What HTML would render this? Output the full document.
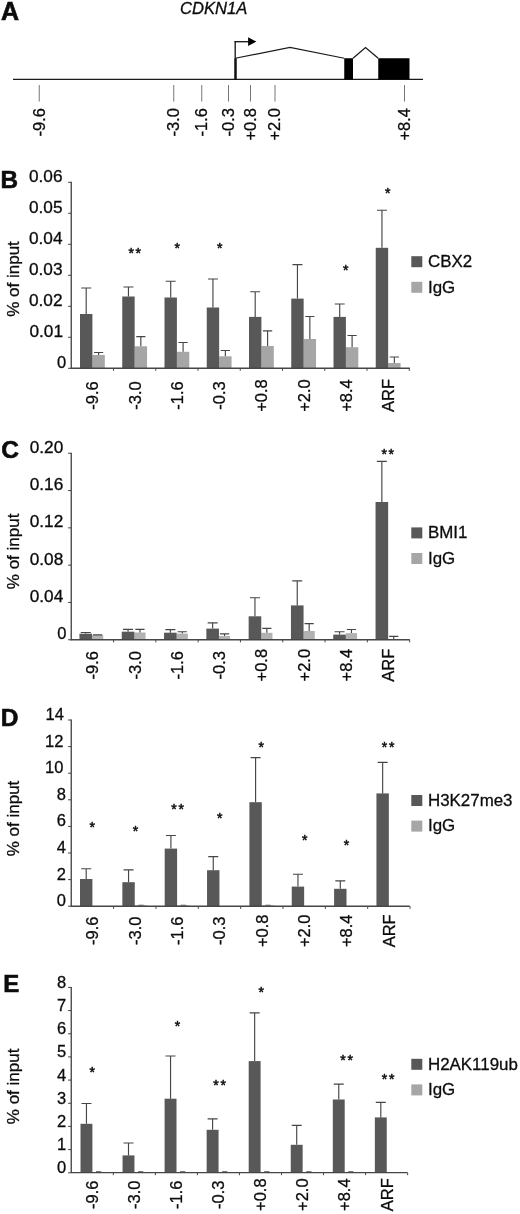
<!DOCTYPE html>
<html lang="en">
<head>
<meta charset="utf-8">
<title>CDKN1A ChIP figure</title>
<style>
html,body{margin:0;padding:0;background:#fff;}
body{width:520px;height:1214px;overflow:hidden;}
svg{display:block;font-family:'Liberation Sans', Arial, Helvetica, sans-serif;}
text{fill:#0c0c0c;stroke:#0c0c0c;stroke-width:0.3px;}
</style>
</head>
<body>
<svg width="520" height="1214" viewBox="0 0 520 1214" font-family="'Liberation Sans', Arial, Helvetica, sans-serif">
<rect x="0" y="0" width="520" height="1214" fill="#ffffff"/>
<g id="panelA">
<text x="0.9" y="19.7" font-size="25" font-weight="bold" style="stroke-width:0.6px">A</text>
<text x="180" y="14.3" font-size="16.6" font-style="italic">CDKN1A</text>
<line x1="13" y1="79.4" x2="423" y2="79.4" stroke="#1a1a1a" stroke-width="1.3"/>
<line x1="235.2" y1="41.1" x2="235.2" y2="79.5" stroke="#111" stroke-width="1.3"/>
<line x1="235.6" y1="58.4" x2="235.6" y2="79.5" stroke="#111" stroke-width="2.3"/>
<line x1="234.55" y1="41.7" x2="249.5" y2="41.7" stroke="#111" stroke-width="1.3"/>
<polygon points="248.1,37.2 256.4,41.6 248.1,46" fill="#000"/>
<polyline points="235.25,58.25 290,47.5 344.25,58.25" fill="none" stroke="#1a1a1a" stroke-width="1.25"/>
<rect x="344.25" y="58.25" width="8.75" height="21.25" fill="#000"/>
<polyline points="353,58.25 365.5,47.5 378.25,58.25" fill="none" stroke="#1a1a1a" stroke-width="1.25"/>
<rect x="378.25" y="58.25" width="31.25" height="21.25" fill="#000"/>
<line x1="39.25" y1="85" x2="39.25" y2="101.5" stroke="#666" stroke-width="0.9"/>
<text x="45.35" y="108.00" transform="rotate(-90 45.35 108.00)" text-anchor="end" font-size="16.5" >-9.6</text>
<line x1="173.75" y1="85" x2="173.75" y2="101.5" stroke="#666" stroke-width="0.9"/>
<text x="178.95" y="108.00" transform="rotate(-90 178.95 108.00)" text-anchor="end" font-size="16.5" >-3.0</text>
<line x1="201.75" y1="85" x2="201.75" y2="101.5" stroke="#666" stroke-width="0.9"/>
<text x="206.95" y="108.00" transform="rotate(-90 206.95 108.00)" text-anchor="end" font-size="16.5" >-1.6</text>
<line x1="228.5" y1="85" x2="228.5" y2="101.5" stroke="#666" stroke-width="0.9"/>
<text x="233.70" y="108.00" transform="rotate(-90 233.70 108.00)" text-anchor="end" font-size="16.5" >-0.3</text>
<line x1="250.5" y1="85" x2="250.5" y2="101.5" stroke="#666" stroke-width="0.9"/>
<text x="255.70" y="108.00" transform="rotate(-90 255.70 108.00)" text-anchor="end" font-size="16.5" >+0.8</text>
<line x1="275" y1="85" x2="275" y2="101.5" stroke="#666" stroke-width="0.9"/>
<text x="280.20" y="108.00" transform="rotate(-90 280.20 108.00)" text-anchor="end" font-size="16.5" >+2.0</text>
<line x1="404.5" y1="85" x2="404.5" y2="101.5" stroke="#666" stroke-width="0.9"/>
<text x="409.70" y="108.00" transform="rotate(-90 409.70 108.00)" text-anchor="end" font-size="16.5" >+8.4</text>
</g>
<g id="panelB">
<text x="0.5" y="187.8" font-size="24.3" font-weight="bold" style="stroke-width:0.6px">B</text>
<text x="18.70" y="279.00" transform="rotate(-90 18.70 279.00)" text-anchor="middle" font-size="17" >% of input</text>
<rect x="92.40" y="355.00" width="12.40" height="13.25" fill="#a6a6a6"/>
<path d="M98.60 355.00V352.50M94.00 352.50H103.20" stroke="#464646" stroke-width="1.15" fill="none"/>
<rect x="80.00" y="314.00" width="12.40" height="54.25" fill="#585858"/>
<path d="M86.20 314.00V288.00M81.20 288.00H91.20" stroke="#464646" stroke-width="1.15" fill="none"/>
<rect x="134.65" y="346.30" width="12.40" height="21.95" fill="#a6a6a6"/>
<path d="M140.85 346.30V336.60M136.25 336.60H145.45" stroke="#464646" stroke-width="1.15" fill="none"/>
<rect x="122.25" y="296.50" width="12.40" height="71.75" fill="#585858"/>
<path d="M128.45 296.50V287.00M123.45 287.00H133.45" stroke="#464646" stroke-width="1.15" fill="none"/>
<rect x="176.90" y="351.80" width="12.40" height="16.45" fill="#a6a6a6"/>
<path d="M183.10 351.80V342.50M178.50 342.50H187.70" stroke="#464646" stroke-width="1.15" fill="none"/>
<rect x="164.50" y="297.50" width="12.40" height="70.75" fill="#585858"/>
<path d="M170.70 297.50V281.20M165.70 281.20H175.70" stroke="#464646" stroke-width="1.15" fill="none"/>
<rect x="219.15" y="356.30" width="12.40" height="11.95" fill="#a6a6a6"/>
<path d="M225.35 356.30V350.50M220.75 350.50H229.95" stroke="#464646" stroke-width="1.15" fill="none"/>
<rect x="206.75" y="307.50" width="12.40" height="60.75" fill="#585858"/>
<path d="M212.95 307.50V279.00M207.95 279.00H217.95" stroke="#464646" stroke-width="1.15" fill="none"/>
<rect x="261.40" y="346.00" width="12.40" height="22.25" fill="#a6a6a6"/>
<path d="M267.60 346.00V330.80M263.00 330.80H272.20" stroke="#464646" stroke-width="1.15" fill="none"/>
<rect x="249.00" y="316.90" width="12.40" height="51.35" fill="#585858"/>
<path d="M255.20 316.90V291.70M250.20 291.70H260.20" stroke="#464646" stroke-width="1.15" fill="none"/>
<rect x="303.65" y="339.00" width="12.40" height="29.25" fill="#a6a6a6"/>
<path d="M309.85 339.00V316.50M305.25 316.50H314.45" stroke="#464646" stroke-width="1.15" fill="none"/>
<rect x="291.25" y="298.60" width="12.40" height="69.65" fill="#585858"/>
<path d="M297.45 298.60V264.60M292.45 264.60H302.45" stroke="#464646" stroke-width="1.15" fill="none"/>
<rect x="345.90" y="347.20" width="12.40" height="21.05" fill="#a6a6a6"/>
<path d="M352.10 347.20V335.50M347.50 335.50H356.70" stroke="#464646" stroke-width="1.15" fill="none"/>
<rect x="333.50" y="316.90" width="12.40" height="51.35" fill="#585858"/>
<path d="M339.70 316.90V304.00M334.70 304.00H344.70" stroke="#464646" stroke-width="1.15" fill="none"/>
<rect x="388.15" y="363.00" width="12.40" height="5.25" fill="#a6a6a6"/>
<path d="M394.35 363.00V357.00M389.75 357.00H398.95" stroke="#464646" stroke-width="1.15" fill="none"/>
<rect x="375.75" y="247.80" width="12.40" height="120.45" fill="#585858"/>
<path d="M381.95 247.80V210.20M376.95 210.20H386.95" stroke="#464646" stroke-width="1.15" fill="none"/>
<path d="M71.25 181.8V368.75" stroke="#464646" stroke-width="1.35" fill="none"/>
<path d="M70.75 368.25H409.8" stroke="#464646" stroke-width="1.35" fill="none"/>
<path d="M68.05 182.3H71.25" stroke="#464646" stroke-width="1" fill="none"/>
<text transform="translate(62.50 181.80) scale(1.045 1)" text-anchor="end" font-size="16.5">0.06</text>
<path d="M68.05 213.3H71.25" stroke="#464646" stroke-width="1" fill="none"/>
<text transform="translate(62.50 212.80) scale(1.045 1)" text-anchor="end" font-size="16.5">0.05</text>
<path d="M68.05 244.3H71.25" stroke="#464646" stroke-width="1" fill="none"/>
<text transform="translate(62.50 243.80) scale(1.045 1)" text-anchor="end" font-size="16.5">0.04</text>
<path d="M68.05 275.3H71.25" stroke="#464646" stroke-width="1" fill="none"/>
<text transform="translate(62.50 274.80) scale(1.045 1)" text-anchor="end" font-size="16.5">0.03</text>
<path d="M68.05 306.3H71.25" stroke="#464646" stroke-width="1" fill="none"/>
<text transform="translate(62.50 305.80) scale(1.045 1)" text-anchor="end" font-size="16.5">0.02</text>
<path d="M68.05 337.3H71.25" stroke="#464646" stroke-width="1" fill="none"/>
<text transform="translate(63.00 336.80) scale(1.045 1)" text-anchor="end" font-size="16.5">0.01</text>
<path d="M68.05 368.3H71.25" stroke="#464646" stroke-width="1" fill="none"/>
<text transform="translate(66.10 367.80) scale(1 1)" text-anchor="end" font-size="16.5">0</text>
<path d="M113.50 368.25V370.85" stroke="#464646" stroke-width="1" fill="none"/>
<path d="M155.75 368.25V370.85" stroke="#464646" stroke-width="1" fill="none"/>
<path d="M198.00 368.25V370.85" stroke="#464646" stroke-width="1" fill="none"/>
<path d="M240.25 368.25V370.85" stroke="#464646" stroke-width="1" fill="none"/>
<path d="M282.50 368.25V370.85" stroke="#464646" stroke-width="1" fill="none"/>
<path d="M324.75 368.25V370.85" stroke="#464646" stroke-width="1" fill="none"/>
<path d="M367.00 368.25V370.85" stroke="#464646" stroke-width="1" fill="none"/>
<path d="M409.25 368.25V370.85" stroke="#464646" stroke-width="1" fill="none"/>
<text x="98.28" y="395.50" transform="rotate(-90 98.28 395.50)" text-anchor="middle" font-size="16.5" >-9.6</text>
<text x="140.53" y="395.50" transform="rotate(-90 140.53 395.50)" text-anchor="middle" font-size="16.5" >-3.0</text>
<text x="182.78" y="395.50" transform="rotate(-90 182.78 395.50)" text-anchor="middle" font-size="16.5" >-1.6</text>
<text x="225.03" y="395.50" transform="rotate(-90 225.03 395.50)" text-anchor="middle" font-size="16.5" >-0.3</text>
<text x="267.27" y="395.50" transform="rotate(-90 267.27 395.50)" text-anchor="middle" font-size="16.5" >+0.8</text>
<text x="309.52" y="395.50" transform="rotate(-90 309.52 395.50)" text-anchor="middle" font-size="16.5" >+2.0</text>
<text x="351.77" y="395.50" transform="rotate(-90 351.77 395.50)" text-anchor="middle" font-size="16.5" >+8.4</text>
<text x="394.02" y="395.50" transform="rotate(-90 394.02 395.50)" text-anchor="middle" font-size="16.5" >ARF</text>
<text x="135.60" y="257.70" text-anchor="middle" font-size="14" letter-spacing="1.7" style="stroke-width:0.5px">**</text>
<text x="178.00" y="253.20" text-anchor="middle" font-size="14" letter-spacing="1.7" style="stroke-width:0.5px">*</text>
<text x="220.50" y="253.20" text-anchor="middle" font-size="14" letter-spacing="1.7" style="stroke-width:0.5px">*</text>
<text x="346.60" y="274.70" text-anchor="middle" font-size="14" letter-spacing="1.7" style="stroke-width:0.5px">*</text>
<text x="388.60" y="197.90" text-anchor="middle" font-size="14" letter-spacing="1.7" style="stroke-width:0.5px">*</text>
<rect x="411.3" y="256.20" width="11" height="11" fill="#585858"/>
<rect x="411.3" y="281.80" width="11" height="11" fill="#a6a6a6"/>
<text x="428" y="267.20" font-size="16.9">CBX2</text>
<text x="428" y="292.50" font-size="16.9">IgG</text>
</g>
<g id="panelC">
<text x="1.2" y="458.4" font-size="24.5" font-weight="bold" style="stroke-width:0.6px">C</text>
<text x="18.70" y="551.40" transform="rotate(-90 18.70 551.40)" text-anchor="middle" font-size="17" >% of input</text>
<rect x="92.05" y="635.20" width="11.20" height="4.55" fill="#b2b2b2"/>
<path d="M97.65 635.20V634.80M93.05 634.80H102.25" stroke="#464646" stroke-width="1.15" fill="none"/>
<rect x="79.45" y="633.70" width="12.60" height="6.05" fill="#585858"/>
<path d="M85.75 633.70V632.50M80.75 632.50H90.75" stroke="#464646" stroke-width="1.15" fill="none"/>
<rect x="134.35" y="632.50" width="11.20" height="7.25" fill="#b2b2b2"/>
<path d="M139.95 632.50V629.40M135.35 629.40H144.55" stroke="#464646" stroke-width="1.15" fill="none"/>
<rect x="121.75" y="631.70" width="12.60" height="8.05" fill="#585858"/>
<path d="M128.05 631.70V629.40M123.05 629.40H133.05" stroke="#464646" stroke-width="1.15" fill="none"/>
<rect x="176.65" y="633.60" width="11.20" height="6.15" fill="#b2b2b2"/>
<path d="M182.25 633.60V631.70M177.65 631.70H186.85" stroke="#464646" stroke-width="1.15" fill="none"/>
<rect x="164.05" y="632.70" width="12.60" height="7.05" fill="#585858"/>
<path d="M170.35 632.70V629.60M165.35 629.60H175.35" stroke="#464646" stroke-width="1.15" fill="none"/>
<rect x="218.95" y="636.00" width="11.20" height="3.75" fill="#b2b2b2"/>
<path d="M224.55 636.00V633.80M219.95 633.80H229.15" stroke="#464646" stroke-width="1.15" fill="none"/>
<rect x="206.35" y="628.60" width="12.60" height="11.15" fill="#585858"/>
<path d="M212.65 628.60V622.90M207.65 622.90H217.65" stroke="#464646" stroke-width="1.15" fill="none"/>
<rect x="261.25" y="632.80" width="11.20" height="6.95" fill="#b2b2b2"/>
<path d="M266.85 632.80V628.40M262.25 628.40H271.45" stroke="#464646" stroke-width="1.15" fill="none"/>
<rect x="248.65" y="616.30" width="12.60" height="23.45" fill="#585858"/>
<path d="M254.95 616.30V597.70M249.95 597.70H259.95" stroke="#464646" stroke-width="1.15" fill="none"/>
<rect x="303.55" y="631.00" width="11.20" height="8.75" fill="#b2b2b2"/>
<path d="M309.15 631.00V623.60M304.55 623.60H313.75" stroke="#464646" stroke-width="1.15" fill="none"/>
<rect x="290.95" y="605.40" width="12.60" height="34.35" fill="#585858"/>
<path d="M297.25 605.40V580.90M292.25 580.90H302.25" stroke="#464646" stroke-width="1.15" fill="none"/>
<rect x="345.85" y="633.10" width="11.20" height="6.65" fill="#b2b2b2"/>
<path d="M351.45 633.10V629.50M346.85 629.50H356.05" stroke="#464646" stroke-width="1.15" fill="none"/>
<rect x="333.25" y="634.60" width="12.60" height="5.15" fill="#585858"/>
<path d="M339.55 634.60V631.70M334.55 631.70H344.55" stroke="#464646" stroke-width="1.15" fill="none"/>
<rect x="388.15" y="639.00" width="11.20" height="0.75" fill="#b2b2b2"/>
<path d="M393.75 639.00V636.40M389.15 636.40H398.35" stroke="#464646" stroke-width="1.15" fill="none"/>
<rect x="375.55" y="502.00" width="12.60" height="137.75" fill="#585858"/>
<path d="M381.85 502.00V461.40M376.85 461.40H386.85" stroke="#464646" stroke-width="1.15" fill="none"/>
<path d="M71.25 452.75V640.25" stroke="#464646" stroke-width="1.35" fill="none"/>
<path d="M70.75 639.75H409.8" stroke="#464646" stroke-width="1.35" fill="none"/>
<path d="M68.05 453.25H71.25" stroke="#464646" stroke-width="1" fill="none"/>
<text transform="translate(63.30 452.75) scale(1.045 1)" text-anchor="end" font-size="16.5">0.20</text>
<path d="M68.05 490.55H71.25" stroke="#464646" stroke-width="1" fill="none"/>
<text transform="translate(63.30 490.05) scale(1.045 1)" text-anchor="end" font-size="16.5">0.16</text>
<path d="M68.05 527.85H71.25" stroke="#464646" stroke-width="1" fill="none"/>
<text transform="translate(63.30 527.35) scale(1.045 1)" text-anchor="end" font-size="16.5">0.12</text>
<path d="M68.05 565.15H71.25" stroke="#464646" stroke-width="1" fill="none"/>
<text transform="translate(63.30 564.65) scale(1.045 1)" text-anchor="end" font-size="16.5">0.08</text>
<path d="M68.05 602.45H71.25" stroke="#464646" stroke-width="1" fill="none"/>
<text transform="translate(63.30 601.95) scale(1.045 1)" text-anchor="end" font-size="16.5">0.04</text>
<path d="M68.05 639.75H71.25" stroke="#464646" stroke-width="1" fill="none"/>
<text transform="translate(66.40 639.25) scale(1 1)" text-anchor="end" font-size="16.5">0</text>
<path d="M113.55 639.75V642.35" stroke="#464646" stroke-width="1" fill="none"/>
<path d="M155.85 639.75V642.35" stroke="#464646" stroke-width="1" fill="none"/>
<path d="M198.15 639.75V642.35" stroke="#464646" stroke-width="1" fill="none"/>
<path d="M240.45 639.75V642.35" stroke="#464646" stroke-width="1" fill="none"/>
<path d="M282.75 639.75V642.35" stroke="#464646" stroke-width="1" fill="none"/>
<path d="M325.05 639.75V642.35" stroke="#464646" stroke-width="1" fill="none"/>
<path d="M367.35 639.75V642.35" stroke="#464646" stroke-width="1" fill="none"/>
<path d="M409.65 639.75V642.35" stroke="#464646" stroke-width="1" fill="none"/>
<text x="98.30" y="665.20" transform="rotate(-90 98.30 665.20)" text-anchor="middle" font-size="16.5" >-9.6</text>
<text x="140.60" y="665.20" transform="rotate(-90 140.60 665.20)" text-anchor="middle" font-size="16.5" >-3.0</text>
<text x="182.90" y="665.20" transform="rotate(-90 182.90 665.20)" text-anchor="middle" font-size="16.5" >-1.6</text>
<text x="225.20" y="665.20" transform="rotate(-90 225.20 665.20)" text-anchor="middle" font-size="16.5" >-0.3</text>
<text x="267.50" y="665.20" transform="rotate(-90 267.50 665.20)" text-anchor="middle" font-size="16.5" >+0.8</text>
<text x="309.80" y="665.20" transform="rotate(-90 309.80 665.20)" text-anchor="middle" font-size="16.5" >+2.0</text>
<text x="352.10" y="665.20" transform="rotate(-90 352.10 665.20)" text-anchor="middle" font-size="16.5" >+8.4</text>
<text x="394.40" y="665.20" transform="rotate(-90 394.40 665.20)" text-anchor="middle" font-size="16.5" >ARF</text>
<text x="388.60" y="458.70" text-anchor="middle" font-size="14" letter-spacing="1.7" style="stroke-width:0.5px">**</text>
<rect x="411.3" y="527.40" width="11" height="11" fill="#585858"/>
<rect x="411.3" y="553.00" width="11" height="11" fill="#a6a6a6"/>
<text x="428" y="538.40" font-size="16.9">BMI1</text>
<text x="428" y="563.70" font-size="16.9">IgG</text>
</g>
<g id="panelD">
<text x="0.7" y="725.7" font-size="24.5" font-weight="bold" style="stroke-width:0.6px">D</text>
<text x="18.70" y="818.50" transform="rotate(-90 18.70 818.50)" text-anchor="middle" font-size="17" >% of input</text>
<rect x="80.00" y="879.00" width="12.40" height="27.25" fill="#585858"/>
<path d="M86.20 879.00V868.70M81.20 868.70H91.20" stroke="#464646" stroke-width="1.15" fill="none"/>
<rect x="134.75" y="905.30" width="12.40" height="0.95" fill="#a6a6a6"/>
<rect x="122.35" y="882.20" width="12.40" height="24.05" fill="#585858"/>
<path d="M128.55 882.20V869.80M123.55 869.80H133.55" stroke="#464646" stroke-width="1.15" fill="none"/>
<path d="M138.35 905.15H143.55" stroke="#555" stroke-width="0.8" fill="none"/>
<rect x="177.10" y="905.30" width="12.40" height="0.95" fill="#a6a6a6"/>
<rect x="164.70" y="848.60" width="12.40" height="57.65" fill="#585858"/>
<path d="M170.90 848.60V835.50M165.90 835.50H175.90" stroke="#464646" stroke-width="1.15" fill="none"/>
<path d="M180.70 905.15H185.90" stroke="#555" stroke-width="0.8" fill="none"/>
<rect x="207.05" y="870.20" width="12.40" height="36.05" fill="#585858"/>
<path d="M213.25 870.20V856.60M208.25 856.60H218.25" stroke="#464646" stroke-width="1.15" fill="none"/>
<rect x="261.80" y="905.30" width="12.40" height="0.95" fill="#a6a6a6"/>
<rect x="249.40" y="802.20" width="12.40" height="104.05" fill="#585858"/>
<path d="M255.60 802.20V757.60M250.60 757.60H260.60" stroke="#464646" stroke-width="1.15" fill="none"/>
<path d="M265.40 905.15H270.60" stroke="#555" stroke-width="0.8" fill="none"/>
<rect x="291.75" y="886.60" width="12.40" height="19.65" fill="#585858"/>
<path d="M297.95 886.60V874.20M292.95 874.20H302.95" stroke="#464646" stroke-width="1.15" fill="none"/>
<rect x="334.10" y="888.80" width="12.40" height="17.45" fill="#585858"/>
<path d="M340.30 888.80V880.80M335.30 880.80H345.30" stroke="#464646" stroke-width="1.15" fill="none"/>
<rect x="376.45" y="793.40" width="12.40" height="112.85" fill="#585858"/>
<path d="M382.65 793.40V762.40M377.65 762.40H387.65" stroke="#464646" stroke-width="1.15" fill="none"/>
<path d="M71.25 719.5V906.75" stroke="#464646" stroke-width="1.35" fill="none"/>
<path d="M70.75 906.25H409.8" stroke="#464646" stroke-width="1.35" fill="none"/>
<path d="M68.05 720.0H71.25" stroke="#464646" stroke-width="1" fill="none"/>
<text transform="translate(63.90 720.00) scale(1 1)" text-anchor="end" font-size="16.5">14</text>
<path d="M68.05 746.6H71.25" stroke="#464646" stroke-width="1" fill="none"/>
<text transform="translate(63.40 746.60) scale(1 1)" text-anchor="end" font-size="16.5">12</text>
<path d="M68.05 773.2H71.25" stroke="#464646" stroke-width="1" fill="none"/>
<text transform="translate(63.40 773.20) scale(1 1)" text-anchor="end" font-size="16.5">10</text>
<path d="M68.05 799.8H71.25" stroke="#464646" stroke-width="1" fill="none"/>
<text transform="translate(66.00 799.80) scale(1 1)" text-anchor="end" font-size="16.5">8</text>
<path d="M68.05 826.4H71.25" stroke="#464646" stroke-width="1" fill="none"/>
<text transform="translate(66.00 826.40) scale(1 1)" text-anchor="end" font-size="16.5">6</text>
<path d="M68.05 853.0H71.25" stroke="#464646" stroke-width="1" fill="none"/>
<text transform="translate(66.00 853.00) scale(1 1)" text-anchor="end" font-size="16.5">4</text>
<path d="M68.05 879.6H71.25" stroke="#464646" stroke-width="1" fill="none"/>
<text transform="translate(66.00 879.60) scale(1 1)" text-anchor="end" font-size="16.5">2</text>
<path d="M68.05 906.2H71.25" stroke="#464646" stroke-width="1" fill="none"/>
<text transform="translate(66.00 906.20) scale(1 1)" text-anchor="end" font-size="16.5">0</text>
<path d="M113.60 906.25V908.85" stroke="#464646" stroke-width="1" fill="none"/>
<path d="M155.95 906.25V908.85" stroke="#464646" stroke-width="1" fill="none"/>
<path d="M198.30 906.25V908.85" stroke="#464646" stroke-width="1" fill="none"/>
<path d="M240.65 906.25V908.85" stroke="#464646" stroke-width="1" fill="none"/>
<path d="M283.00 906.25V908.85" stroke="#464646" stroke-width="1" fill="none"/>
<path d="M325.35 906.25V908.85" stroke="#464646" stroke-width="1" fill="none"/>
<path d="M367.70 906.25V908.85" stroke="#464646" stroke-width="1" fill="none"/>
<path d="M410.05 906.25V908.85" stroke="#464646" stroke-width="1" fill="none"/>
<text x="98.33" y="930.80" transform="rotate(-90 98.33 930.80)" text-anchor="middle" font-size="16.5" >-9.6</text>
<text x="140.68" y="930.80" transform="rotate(-90 140.68 930.80)" text-anchor="middle" font-size="16.5" >-3.0</text>
<text x="183.03" y="930.80" transform="rotate(-90 183.03 930.80)" text-anchor="middle" font-size="16.5" >-1.6</text>
<text x="225.38" y="930.80" transform="rotate(-90 225.38 930.80)" text-anchor="middle" font-size="16.5" >-0.3</text>
<text x="267.72" y="930.80" transform="rotate(-90 267.72 930.80)" text-anchor="middle" font-size="16.5" >+0.8</text>
<text x="310.07" y="930.80" transform="rotate(-90 310.07 930.80)" text-anchor="middle" font-size="16.5" >+2.0</text>
<text x="352.43" y="930.80" transform="rotate(-90 352.43 930.80)" text-anchor="middle" font-size="16.5" >+8.4</text>
<text x="394.77" y="930.80" transform="rotate(-90 394.77 930.80)" text-anchor="middle" font-size="16.5" >ARF</text>
<text x="93.00" y="831.70" text-anchor="middle" font-size="14" letter-spacing="1.7" style="stroke-width:0.5px">*</text>
<text x="136.40" y="836.30" text-anchor="middle" font-size="14" letter-spacing="1.7" style="stroke-width:0.5px">*</text>
<text x="178.40" y="813.70" text-anchor="middle" font-size="14" letter-spacing="1.7" style="stroke-width:0.5px">**</text>
<text x="220.50" y="822.70" text-anchor="middle" font-size="14" letter-spacing="1.7" style="stroke-width:0.5px">*</text>
<text x="262.20" y="751.50" text-anchor="middle" font-size="14" letter-spacing="1.7" style="stroke-width:0.5px">*</text>
<text x="305.70" y="845.40" text-anchor="middle" font-size="14" letter-spacing="1.7" style="stroke-width:0.5px">*</text>
<text x="347.30" y="850.20" text-anchor="middle" font-size="14" letter-spacing="1.7" style="stroke-width:0.5px">*</text>
<text x="389.00" y="751.50" text-anchor="middle" font-size="14" letter-spacing="1.7" style="stroke-width:0.5px">**</text>
<rect x="411.3" y="795.00" width="11" height="11" fill="#585858"/>
<rect x="411.3" y="820.60" width="11" height="11" fill="#a6a6a6"/>
<text x="428" y="806.00" font-size="16.9">H3K27me3</text>
<text x="428" y="831.30" font-size="16.9">IgG</text>
</g>
<g id="panelE">
<text x="3.3" y="992" font-size="24" font-weight="bold" style="stroke-width:0.6px">E</text>
<text x="18.70" y="1086.40" transform="rotate(-90 18.70 1086.40)" text-anchor="middle" font-size="17" >% of input</text>
<rect x="80.50" y="1123.80" width="11.90" height="48.80" fill="#585858"/>
<path d="M86.45 1123.80V1103.50M81.45 1103.50H91.45" stroke="#464646" stroke-width="1.15" fill="none"/>
<path d="M96.00 1171.50H101.20" stroke="#555" stroke-width="0.8" fill="none"/>
<rect x="122.55" y="1155.40" width="11.90" height="17.20" fill="#585858"/>
<path d="M128.50 1155.40V1143.00M123.50 1143.00H133.50" stroke="#464646" stroke-width="1.15" fill="none"/>
<path d="M138.05 1171.50H143.25" stroke="#555" stroke-width="0.8" fill="none"/>
<rect x="164.60" y="1098.70" width="11.90" height="73.90" fill="#585858"/>
<path d="M170.55 1098.70V1056.00M165.55 1056.00H175.55" stroke="#464646" stroke-width="1.15" fill="none"/>
<path d="M180.10 1171.50H185.30" stroke="#555" stroke-width="0.8" fill="none"/>
<rect x="206.65" y="1129.80" width="11.90" height="42.80" fill="#585858"/>
<path d="M212.60 1129.80V1118.80M207.60 1118.80H217.60" stroke="#464646" stroke-width="1.15" fill="none"/>
<path d="M222.15 1171.50H227.35" stroke="#555" stroke-width="0.8" fill="none"/>
<rect x="248.70" y="1061.10" width="11.90" height="111.50" fill="#585858"/>
<path d="M254.65 1061.10V1012.90M249.65 1012.90H259.65" stroke="#464646" stroke-width="1.15" fill="none"/>
<path d="M264.20 1171.50H269.40" stroke="#555" stroke-width="0.8" fill="none"/>
<rect x="290.75" y="1144.80" width="11.90" height="27.80" fill="#585858"/>
<path d="M296.70 1144.80V1125.40M291.70 1125.40H301.70" stroke="#464646" stroke-width="1.15" fill="none"/>
<path d="M306.25 1171.50H311.45" stroke="#555" stroke-width="0.8" fill="none"/>
<rect x="332.80" y="1099.50" width="11.90" height="73.10" fill="#585858"/>
<path d="M338.75 1099.50V1084.10M333.75 1084.10H343.75" stroke="#464646" stroke-width="1.15" fill="none"/>
<path d="M348.30 1171.50H353.50" stroke="#555" stroke-width="0.8" fill="none"/>
<rect x="374.85" y="1117.40" width="11.90" height="55.20" fill="#585858"/>
<path d="M380.80 1117.40V1102.40M375.80 1102.40H385.80" stroke="#464646" stroke-width="1.15" fill="none"/>
<path d="M71.25 986.9V1173.1" stroke="#464646" stroke-width="1.35" fill="none"/>
<path d="M70.75 1172.6H407.5" stroke="#464646" stroke-width="1.35" fill="none"/>
<path d="M68.05 987.4H71.25" stroke="#464646" stroke-width="1" fill="none"/>
<text transform="translate(66.10 987.90) scale(1 1)" text-anchor="end" font-size="16.5">8</text>
<path d="M68.05 1010.5699999999999H71.25" stroke="#464646" stroke-width="1" fill="none"/>
<text transform="translate(66.10 1011.07) scale(1 1)" text-anchor="end" font-size="16.5">7</text>
<path d="M68.05 1033.74H71.25" stroke="#464646" stroke-width="1" fill="none"/>
<text transform="translate(66.10 1034.24) scale(1 1)" text-anchor="end" font-size="16.5">6</text>
<path d="M68.05 1056.91H71.25" stroke="#464646" stroke-width="1" fill="none"/>
<text transform="translate(66.10 1057.41) scale(1 1)" text-anchor="end" font-size="16.5">5</text>
<path d="M68.05 1080.08H71.25" stroke="#464646" stroke-width="1" fill="none"/>
<text transform="translate(66.10 1080.58) scale(1 1)" text-anchor="end" font-size="16.5">4</text>
<path d="M68.05 1103.25H71.25" stroke="#464646" stroke-width="1" fill="none"/>
<text transform="translate(66.10 1103.75) scale(1 1)" text-anchor="end" font-size="16.5">3</text>
<path d="M68.05 1126.42H71.25" stroke="#464646" stroke-width="1" fill="none"/>
<text transform="translate(66.10 1126.92) scale(1 1)" text-anchor="end" font-size="16.5">2</text>
<path d="M68.05 1149.59H71.25" stroke="#464646" stroke-width="1" fill="none"/>
<text transform="translate(66.10 1150.09) scale(1 1)" text-anchor="end" font-size="16.5">1</text>
<path d="M68.05 1172.76H71.25" stroke="#464646" stroke-width="1" fill="none"/>
<text transform="translate(66.10 1173.26) scale(1 1)" text-anchor="end" font-size="16.5">0</text>
<path d="M113.30 1172.6V1175.1999999999998" stroke="#464646" stroke-width="1" fill="none"/>
<path d="M155.35 1172.6V1175.1999999999998" stroke="#464646" stroke-width="1" fill="none"/>
<path d="M197.40 1172.6V1175.1999999999998" stroke="#464646" stroke-width="1" fill="none"/>
<path d="M239.45 1172.6V1175.1999999999998" stroke="#464646" stroke-width="1" fill="none"/>
<path d="M281.50 1172.6V1175.1999999999998" stroke="#464646" stroke-width="1" fill="none"/>
<path d="M323.55 1172.6V1175.1999999999998" stroke="#464646" stroke-width="1" fill="none"/>
<path d="M365.60 1172.6V1175.1999999999998" stroke="#464646" stroke-width="1" fill="none"/>
<path d="M407.65 1172.6V1175.1999999999998" stroke="#464646" stroke-width="1" fill="none"/>
<text x="98.18" y="1194.70" transform="rotate(-90 98.18 1194.70)" text-anchor="middle" font-size="16.5" >-9.6</text>
<text x="140.22" y="1194.70" transform="rotate(-90 140.22 1194.70)" text-anchor="middle" font-size="16.5" >-3.0</text>
<text x="182.28" y="1194.70" transform="rotate(-90 182.28 1194.70)" text-anchor="middle" font-size="16.5" >-1.6</text>
<text x="224.32" y="1194.70" transform="rotate(-90 224.32 1194.70)" text-anchor="middle" font-size="16.5" >-0.3</text>
<text x="266.37" y="1194.70" transform="rotate(-90 266.37 1194.70)" text-anchor="middle" font-size="16.5" >+0.8</text>
<text x="308.42" y="1194.70" transform="rotate(-90 308.42 1194.70)" text-anchor="middle" font-size="16.5" >+2.0</text>
<text x="350.47" y="1194.70" transform="rotate(-90 350.47 1194.70)" text-anchor="middle" font-size="16.5" >+8.4</text>
<text x="392.52" y="1194.70" transform="rotate(-90 392.52 1194.70)" text-anchor="middle" font-size="16.5" >ARF</text>
<text x="93.00" y="1076.50" text-anchor="middle" font-size="14" letter-spacing="1.7" style="stroke-width:0.5px">*</text>
<text x="178.40" y="1031.30" text-anchor="middle" font-size="14" letter-spacing="1.7" style="stroke-width:0.5px">*</text>
<text x="220.50" y="1090.10" text-anchor="middle" font-size="14" letter-spacing="1.7" style="stroke-width:0.5px">**</text>
<text x="262.20" y="996.60" text-anchor="middle" font-size="14" letter-spacing="1.7" style="stroke-width:0.5px">*</text>
<text x="347.40" y="1065.30" text-anchor="middle" font-size="14" letter-spacing="1.7" style="stroke-width:0.5px">**</text>
<text x="389.00" y="1083.90" text-anchor="middle" font-size="14" letter-spacing="1.7" style="stroke-width:0.5px">**</text>
<rect x="411.3" y="1058.80" width="11" height="11" fill="#585858"/>
<rect x="411.3" y="1084.40" width="11" height="11" fill="#a6a6a6"/>
<text x="428" y="1069.80" font-size="16.9">H2AK119ub</text>
<text x="428" y="1095.10" font-size="16.9">IgG</text>
</g>
</svg>
</body>
</html>
